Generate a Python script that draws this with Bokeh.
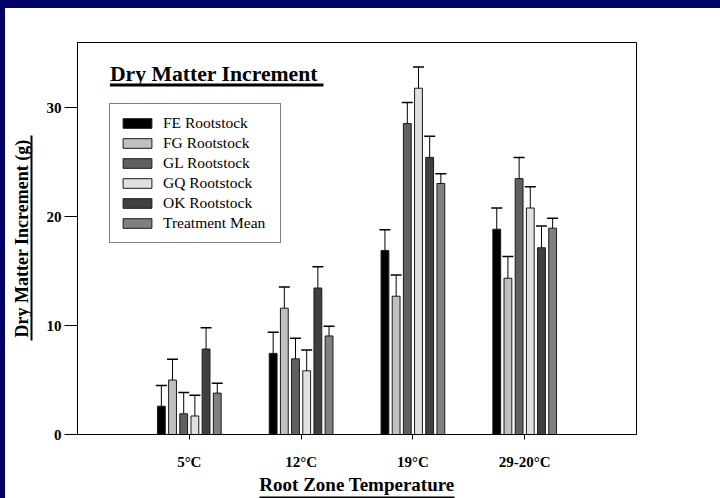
from bokeh.plotting import figure
from bokeh.models import (ColumnDataSource, Range1d, FixedTicker, Whisker, TeeHead,
                          Label, BoxAnnotation, Legend, LegendItem, Div, LinearAxis)
from bokeh.transform import dodge
from bokeh.layouts import column, row
from bokeh.embed import file_html
from bokeh.resources import INLINE

# ---- data ----
categories = ["5°C", "12°C", "19°C", "29-20°C"]
series_names = ["FE Rootstock", "FG Rootstock", "GL Rootstock", "GQ Rootstock", "OK Rootstock", "Treatment Mean"]
fe = [2.6, 7.45, 16.9, 18.85]
fg = [5.0, 11.6, 12.7, 14.35]
gl = [1.9, 6.95, 28.55, 23.5]
gq = [1.7, 5.85, 31.8, 20.8]
ok = [7.85, 13.45, 25.45, 17.15]
tm = [3.8, 9.05, 23.05, 18.95]
fe_err = [1.9, 1.95, 1.9, 1.95]
fg_err = [1.9, 1.95, 1.95, 2.0]
gl_err = [1.95, 1.9, 1.95, 1.95]
gq_err = [1.9, 1.9, 1.95, 1.95]
ok_err = [1.95, 1.95, 1.95, 2.0]
tm_err = [0.9, 0.9, 0.9, 0.9]
y_ticks = [0, 10, 20, 30]

values = [fe, fg, gl, gq, ok, tm]
errors = [fe_err, fg_err, gl_err, gq_err, ok_err, tm_err]
colors = ["#000000", "#c0c0c0", "#606060", "#e0e0e0", "#404040", "#808080"]
offsets = [-0.25, -0.15, -0.05, 0.05, 0.15, 0.25]

SERIF = "Liberation Serif"
NAVY = "#000066"

xpos = list(range(1, len(categories) + 1))

p = figure(width=715, height=490, output_backend="svg", toolbar_location=None,
           x_range=Range1d(0, len(categories) + 1), y_range=Range1d(0, 36),
           min_border_left=72, min_border_right=84, min_border_top=34, min_border_bottom=64)
p.background_fill_color = "white"
p.border_fill_color = "white"
p.outline_line_color = "black"
p.outline_line_width = 1
p.xgrid.visible = False
p.ygrid.visible = False

items = []
for name, vals, errs, col, off in zip(series_names, values, errors, colors, offsets):
    src = ColumnDataSource(dict(xc=xpos, val=vals,
                                upper=[v + e for v, e in zip(vals, errs)]))
    r = p.vbar(x=dodge("xc", off), top="val", bottom=0, width=0.07,
               source=src, fill_color=col, line_color="#1a1a1a", line_width=1)
    w = Whisker(base=dodge("xc", off), upper="upper", lower="val", source=src,
                dimension="height", line_color="black", line_width=1,
                upper_head=TeeHead(size=11, line_color="black", line_width=1.5), lower_head=None,
                level="glyph")
    p.add_layout(w)
    items.append(LegendItem(label=name, renderers=[r]))

legend = Legend(items=items, location=(32, 191), margin=0, padding=9, spacing=0,
                glyph_width=36, glyph_height=12, label_standoff=8, label_height=20, label_width=108,
                label_text_font=SERIF, label_text_font_size="15.5px", label_text_color="black",
                border_line_color="black", border_line_width=1, background_fill_alpha=1)
p.add_layout(legend, "center")

# main axes
p.yaxis.ticker = FixedTicker(ticks=y_ticks)
p.xaxis.ticker = FixedTicker(ticks=xpos)
p.xaxis.major_label_overrides = {x: c for x, c in zip(xpos, categories)}
p.xaxis.minor_tick_line_color = None
p.yaxis.minor_tick_line_color = None
p.yaxis.major_tick_in = 0
p.yaxis.major_tick_out = 13
p.yaxis.major_label_standoff = 3
p.yaxis.axis_line_color = "black"
for ax in (p.xaxis[0], p.yaxis[0]):
    ax.major_label_text_font = SERIF
    ax.major_label_text_font_style = "bold"
    ax.major_label_text_font_size = "15px"
    ax.major_label_text_color = "black"
    ax.major_tick_line_color = "black"
p.xaxis.major_tick_in = 0
p.xaxis.major_tick_out = 5
p.xaxis.major_label_standoff = 14
p.xaxis.axis_line_color = "black"


def bare_axis(**kw):
    ax = LinearAxis(ticker=FixedTicker(ticks=[]), major_tick_in=0, major_tick_out=0,
                    minor_tick_in=0, minor_tick_out=0, major_label_text_font_size="0px",
                    axis_line_color=None, **kw)
    ax.axis_label_text_font = SERIF
    ax.axis_label_text_font_style = "bold"
    ax.axis_label_text_font_size = "18px"
    ax.axis_label_text_color = "black"
    return ax


# x axis title + its underline
x_title = bare_axis(axis_label="Root Zone Temperature", axis_label_standoff=1)
x_title.axis_label_text_font_size = "19px"
p.add_layout(x_title, "below")
x_ul = bare_axis(bounds=(1.63, 3.37))
x_ul.axis_line_color = "black"
x_ul.axis_line_width = 2
p.add_layout(x_ul, "below")

# y axis title with its underline (blank spacer first)
y_spacer = bare_axis(axis_label=" ", axis_label_standoff=8)
y_spacer.axis_label_text_font_size = "1px"
p.add_layout(y_spacer, "left")
y_title = bare_axis(bounds=(8.63, 27.46), axis_label="Dry Matter Increment (g)", axis_label_standoff=0)
y_title.axis_line_color = "black"
y_title.axis_line_width = 2
p.add_layout(y_title, "left")

# ---- chart title inside the frame (with underline) ----
p.add_layout(Label(x=0.29, y=33.08, text="Dry Matter Increment", text_font=SERIF,
                   text_font_style="bold", text_font_size="21.7px", text_color="black",
                   text_baseline="alphabetic", text_align="left"))
p.add_layout(BoxAnnotation(left=0.29, right=2.20, bottom=31.96, top=32.23,
                           fill_color="black", fill_alpha=1, line_color=None, level="overlay"))

top_band = Div(width=720, height=8, margin=0, styles={"background-color": NAVY})
left_band = Div(width=5, height=490, margin=0, styles={"background-color": NAVY})
layout = column(top_band, row(left_band, p, spacing=0, margin=0), spacing=0, margin=0)

open("out.html", "w").write(file_html(layout, INLINE))
